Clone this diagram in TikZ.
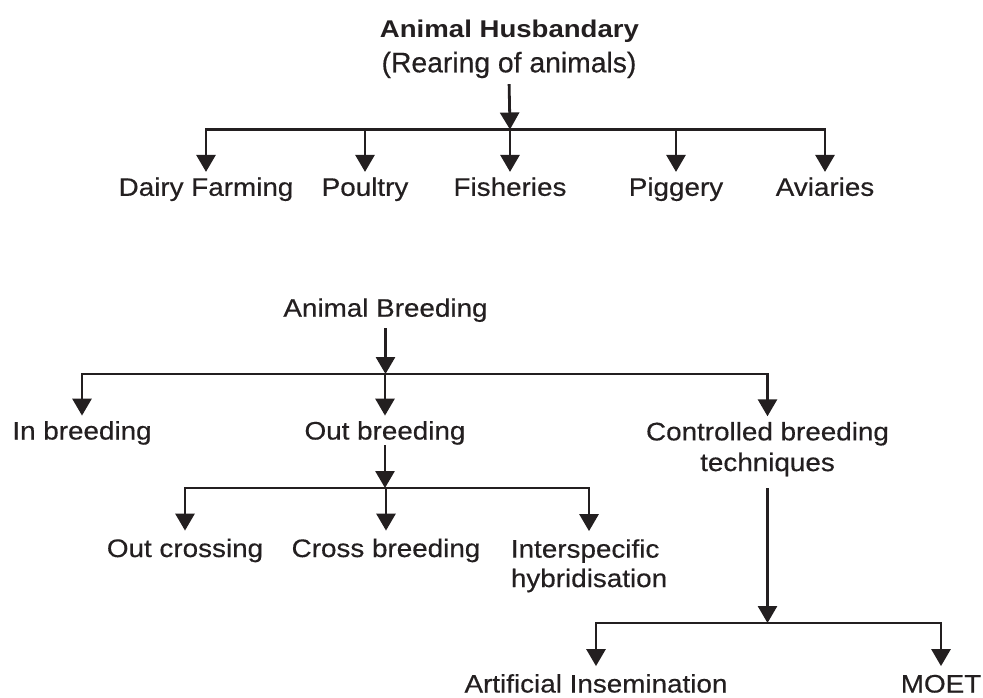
\documentclass[tikz,border=0pt]{standalone}
\usepackage{fontspec}
\setmainfont{Liberation Sans}
\newfontfamily\labfont{Liberation Sans}[FakeStretch=1.1, FakeBold=0.4]
\newfontfamily\rearfont{Liberation Sans}[FakeBold=0.4]
\newfontfamily\titlefont{Liberation Sans}[FakeStretch=1.14]
\usetikzlibrary{arrows.meta}
\definecolor{ink}{HTML}{231F20}
\begin{document}
\begin{tikzpicture}[x=1pt,y=-1pt,
  lab/.style={inner sep=0pt, text=ink, font=\labfont\fontsize{25.3}{30.5}\selectfont, text height=18.2pt, text depth=5.3pt, anchor=base},
  labm/.style={inner sep=0pt, text=ink, font=\labfont\fontsize{25.3}{30.5}\selectfont},
  link/.style={draw=ink, line width=2.8pt},
  arr/.style={link, -{Triangle[length=17pt,width=19pt]}},
]
\fill[white] (0,0) rectangle (983,697);
\useasboundingbox (0,0) rectangle (983,697);

% ---- Animal Husbandry ----
\node[inner sep=0pt, text=ink, anchor=base, font=\titlefont\bfseries\fontsize{24.2}{29}\selectfont] (hub) at (509.5,37) {Animal Husbandary};
\node[inner sep=0pt, text=ink, anchor=base, font=\rearfont\fontsize{28.3}{34}\selectfont] (rear) at (509,72.3) {(Rearing of animals)};
\coordinate (j1) at (510,129.5);

\node[lab] (dairy) at (206,195.8) {Dairy Farming};
\node[lab] (poultry) at (365,195.8) {Poultry};
\node[lab] (fish) at (510,195.8) {Fisheries};
\node[lab] (pig) at (676,195.8) {Piggery};
\node[lab] (avi) at (825,195.8) {Aviaries};

\draw[arr, shorten <=5.7pt] (rear.south) -- (j1);
\draw[arr, shorten >=5.5pt] (j1) -| (dairy.north);
\draw[arr, shorten >=5.5pt] (j1) -| (avi.north);
\draw[arr, shorten >=5.5pt] (j1 -| poultry.north) -- (poultry.north);
\draw[arr, shorten >=5.5pt] (j1 -| fish.north) -- (fish.north);
\draw[arr, shorten >=5.5pt] (j1 -| pig.north) -- (pig.north);

% ---- Animal Breeding ----
\node[lab] (breed) at (385.5,316.7) {Animal Breeding};
\coordinate (j2) at (385.5,374);

\node[lab] (inb) at (82,439.5) {In breeding};
\node[lab] (outb) at (385,439.5) {Out breeding};
\node[labm, anchor=north, align=center, font=\labfont\fontsize{25.3}{30.7}\selectfont] (ctrl) at (767.5,421.8) {Controlled breeding\\techniques};

\draw[arr, shorten <=6pt] (breed.south) -- (j2);
\draw[arr, shorten >=5.5pt] (j2) -| (inb.north);
\draw[arr, shorten >=5.5pt] (j2) -| (ctrl.north);
\draw[arr, shorten >=5.5pt] (j2 -| outb.north) -- (outb.north);

% ---- Out breeding ----
\coordinate (j3) at (385,488);
\node[lab] (outc) at (185,557) {Out crossing};
\node[lab] (crossb) at (386,557) {Cross breeding};
\node[labm, anchor=north west, align=left, font=\labfont\fontsize{25.3}{29.4}\selectfont] (inter) at (510.7,539.1) {Interspecific\\hybridisation};

\draw[arr] (outb.south) -- (j3);
\draw[arr, shorten >=8pt] (j3) -| (outc.north);
\draw[arr, shorten >=8pt] (j3) -| (inter.north);
\draw[arr, shorten >=8pt] (j3 -| crossb.north) -- (crossb.north);

% ---- Controlled breeding ----
\coordinate (j4) at (767.5,623);
\node[lab, text depth=0pt] (ai) at (596,692.5) {Artificial Insemination};
\node[lab, text depth=0pt] (moet) at (941,692.5) {MOET};

\draw[arr, shorten <=12pt] (ctrl.south) -- (j4);
\draw[arr, shorten >=8pt] (j4) -| (ai.north);
\draw[arr, shorten >=8pt] (j4) -| (moet.north);
\end{tikzpicture}
\end{document}
